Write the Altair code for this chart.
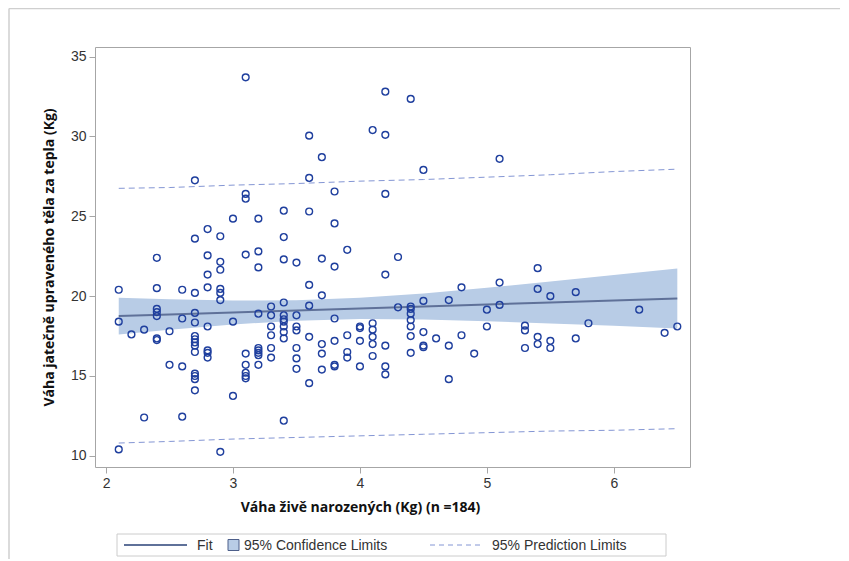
import altair as alt
import pandas as pd

# ---- scatter data (x: live birth weight, y: hot carcass weight) ----
birth_kg = (
    [2.1]*3 + [2.2]*1 + [2.3]*2 + [2.4]*7 + [2.5]*2 + [2.6]*4 + [2.7]*14 + [2.8]*8 +
    [2.9]*7 + [3.0]*3 + [3.1]*9 + [3.2]*9 + [3.3]*6 + [3.4]*11 + [3.5]*7 + [3.6]*7 +
    [3.7]*6 + [3.8]*7 + [3.9]*4 + [4.0]*4 + [4.1]*6 + [4.2]*7 + [4.3]*2 + [4.4]*8 +
    [4.5]*5 + [4.6]*1 + [4.7]*3 + [4.8]*2 + [4.9]*1 + [5.0]*2 + [5.1]*3 + [5.3]*3 +
    [5.4]*4 + [5.5]*3 + [5.7]*2 + [5.8]*1 + [6.2]*1 + [6.4]*1 + [6.5]*1
)
carcass_kg = [
    20.4, 18.4, 10.4,
    17.6,
    17.9, 12.4,
    22.4, 20.5, 19.2, 19.0, 18.75, 17.35, 17.25,
    17.8, 15.7,
    20.4, 18.6, 15.6, 12.45,
    27.25, 23.6, 20.2, 18.95, 18.35, 17.5, 17.3, 17.1, 16.9, 16.5, 15.15, 15.0, 14.8, 14.1,
    24.2, 22.55, 21.35, 20.55, 18.1, 16.6, 16.45, 16.15,
    23.75, 22.15, 21.65, 20.45, 20.2, 19.75, 10.25,
    24.85, 18.4, 13.75,
    33.7, 26.4, 26.1, 22.6, 16.4, 15.7, 15.2, 15.0, 14.85,
    24.85, 22.8, 21.8, 18.9, 16.75, 16.6, 16.45, 16.3, 15.7,
    19.35, 18.8, 18.1, 17.55, 16.75, 16.15,
    25.35, 23.7, 22.3, 19.6, 18.8, 18.55, 18.4, 18.1, 17.75, 17.35, 12.2,
    22.1, 18.8, 18.1, 17.85, 16.75, 16.1, 15.45,
    30.05, 27.4, 25.3, 20.7, 19.4, 17.45, 14.55,
    28.7, 22.35, 20.05, 17.0, 16.4, 15.4,
    26.55, 24.55, 21.85, 18.6, 17.2, 15.7, 15.6,
    22.9, 17.55, 16.5, 16.15,
    18.1, 18.0, 17.2, 15.6,
    30.4, 18.3, 17.9, 17.45, 17.0, 16.25,
    32.8, 30.1, 26.4, 21.35, 16.9, 15.6, 15.1,
    22.45, 19.3,
    32.35, 19.35, 19.2, 18.9, 18.5, 18.1, 17.5, 16.45,
    27.9, 19.7, 17.75, 16.9, 16.8,
    17.35,
    19.75, 16.9, 14.8,
    20.55, 17.55,
    16.4,
    19.15, 18.1,
    28.6, 20.85, 19.45,
    18.15, 17.85, 16.75,
    21.75, 20.45, 17.45, 17.0,
    20.0, 17.2, 16.75,
    20.25, 17.35,
    18.3,
    19.15,
    17.7,
    18.1,
]

# ---- fit, confidence and prediction limits ----
band_x = [2.1, 2.5, 3.0, 3.5, 4.0, 4.5, 5.0, 5.5, 6.0, 6.5]
fit_y  = [18.75, 18.85, 18.98, 19.10, 19.23, 19.35, 19.48, 19.60, 19.73, 19.85]
ci_lo  = [17.6, 17.9, 18.23, 18.46, 18.56, 18.53, 18.43, 18.29, 18.14, 17.98]
ci_hi  = [19.9, 19.8, 19.73, 19.74, 19.9, 20.17, 20.53, 20.91, 21.32, 21.73]
pi_lo  = [10.8, 10.9, 11.05, 11.15, 11.25, 11.35, 11.45, 11.55, 11.6, 11.7]
pi_hi  = [26.75, 26.8, 26.95, 27.05, 27.2, 27.3, 27.45, 27.6, 27.8, 27.95]

x_ticks = [2, 3, 4, 5, 6]
y_ticks = [10, 15, 20, 25, 30, 35]
legend_labels = ["Fit", "95% Confidence Limits", "95% Prediction Limits"]

x_title = "Váha živě narozených (Kg) (n =184)"
y_title = "Váha jatečně upraveného těla za tepla (Kg)"

MARKER = "#1f3f9e"
FIT = "#5f7199"
BAND = "#b8cce6"
PRED = "#8496d4"
FRAME = "#a6a6a6"

pts = pd.DataFrame({"x": birth_kg, "y": carcass_kg})
band = pd.DataFrame({"x": band_x, "fit": fit_y, "lo": ci_lo, "hi": ci_hi,
                     "plo": pi_lo, "phi": pi_hi})
pred_long = pd.concat([
    pd.DataFrame({"x": band_x, "v": pi_lo, "s": "lower"}),
    pd.DataFrame({"x": band_x, "v": pi_hi, "s": "upper"}),
])

xs = alt.Scale(domain=[1.913, 6.6], nice=False, zero=False)
ys = alt.Scale(domain=[9.3, 35.6], nice=False, zero=False)

xaxis = alt.Axis(values=x_ticks, format="d", title=x_title, grid=False, domain=False,
                 tickColor=FRAME, tickSize=6, labelPadding=3, titlePadding=10,
                 titleX=265, titleAnchor="middle")
yaxis = alt.Axis(values=y_ticks, format="d", title=y_title, grid=False, domain=False,
                 tickColor=FRAME, tickSize=6, labelPadding=3, titlePadding=14)

base_x = alt.X("x:Q", scale=xs, axis=xaxis)

band_layer = alt.Chart(band).mark_area(color=BAND, opacity=1).encode(
    x=base_x,
    y=alt.Y("lo:Q", scale=ys, axis=yaxis),
    y2="hi:Q",
)
fit_layer = alt.Chart(band).mark_line(color=FIT, strokeWidth=2).encode(
    x=alt.X("x:Q", scale=xs), y=alt.Y("fit:Q", scale=ys)
)
pred_layer = alt.Chart(pred_long).mark_line(
    color=PRED, strokeWidth=1, strokeDash=[6, 4]
).encode(
    x=alt.X("x:Q", scale=xs), y=alt.Y("v:Q", scale=ys), detail="s:N"
)
pt_layer = alt.Chart(pts).mark_point(
    shape="circle", filled=False, color=MARKER, size=46, strokeWidth=1.4, opacity=1
).encode(x=alt.X("x:Q", scale=xs), y=alt.Y("y:Q", scale=ys))

# ---- manual legend (decoration below the plot) ----
one = pd.DataFrame({"a": [0]})
LY = 498
leg_box = alt.Chart(one).mark_rect(fill="white", stroke="#cccccc", strokeWidth=1).encode(
    x=alt.value(22), x2=alt.value(571), y=alt.value(487), y2=alt.value(509))
leg_fit = alt.Chart(one).mark_rule(color=FIT, strokeWidth=2).encode(
    x=alt.value(29), x2=alt.value(92), y=alt.value(LY))
leg_sq = alt.Chart(one).mark_rect(fill=BAND, stroke="#4d5f8a", strokeWidth=1).encode(
    x=alt.value(133), x2=alt.value(144), y=alt.value(LY - 5.5), y2=alt.value(LY + 5.5))
leg_dash = alt.Chart(one).mark_rule(color=PRED, strokeWidth=1, strokeDash=[5, 4]).encode(
    x=alt.value(335), x2=alt.value(386), y=alt.value(LY))
txt = dict(font="Liberation Sans", fontSize=14, color="#333333", align="left", baseline="middle")
leg_t1 = alt.Chart(one).mark_text(**txt).encode(
    x=alt.value(102), y=alt.value(LY + 0.5), text=alt.value(legend_labels[0]))
leg_t2 = alt.Chart(one).mark_text(**txt).encode(
    x=alt.value(149), y=alt.value(LY + 0.5), text=alt.value(legend_labels[1]))
leg_t3 = alt.Chart(one).mark_text(**txt).encode(
    x=alt.value(397), y=alt.value(LY + 0.5), text=alt.value(legend_labels[2]))

# outer frame lines of the original figure
frame_h = alt.Chart(one).mark_rule(color="#cfcfcf", strokeWidth=1.5).encode(
    x=alt.value(-86), x2=alt.value(760), y=alt.value(-38.5))
frame_v = alt.Chart(one).mark_rule(color="#cfcfcf", strokeWidth=1.5).encode(
    x=alt.value(-86), y=alt.value(-38.5), y2=alt.value(520))

chart = alt.layer(
    band_layer, fit_layer, pred_layer, pt_layer,
    leg_box, leg_fit, leg_sq, leg_dash, leg_t1, leg_t2, leg_t3,
    frame_h, frame_v,
).properties(
    width=595, height=420,
    autosize=alt.AutoSizeParams(type="none"),
    padding={"left": 87, "top": 39, "right": 150, "bottom": 92},
).configure_view(
    stroke=FRAME, strokeWidth=1
).configure_axis(
    labelFont="Liberation Sans", labelFontSize=14, labelColor="#333333",
    titleFont="Open Sans", titleFontSize=14, titleFontWeight="bold", titleColor="#111111",
)

chart.save("out.html", embed_options={"renderer": "svg", "actions": False})
